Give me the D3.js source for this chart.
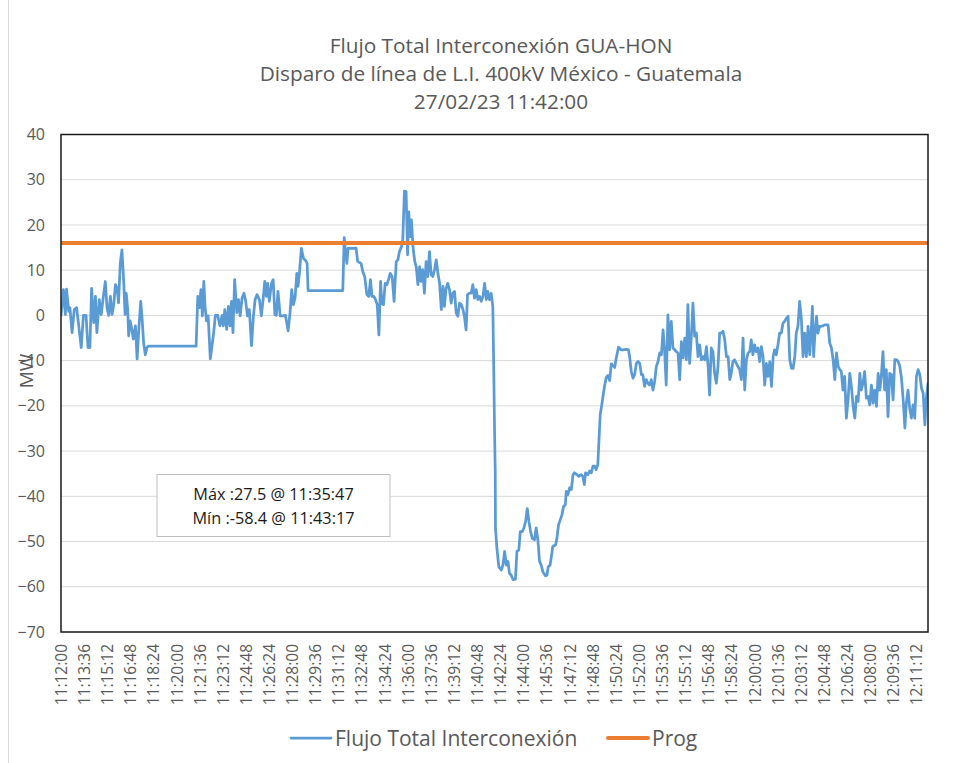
<!DOCTYPE html>
<html>
<head>
<meta charset="utf-8">
<script src="https://cdn.jsdelivr.net/npm/d3@7"></script>
<style>
  html, body { margin: 0; padding: 0; background: #ffffff; }
  svg { display: block; }
  text { font-family: "Open Sans", "Liberation Sans", sans-serif; }
</style>
</head>
<body>
<svg id="chart" width="960" height="763"></svg>
<script>
// ---------------- DATA ----------------
const titleLines = [
  "Flujo Total Interconexión GUA-HON",
  "Disparo de línea de L.I. 400kV México - Guatemala",
  "27/02/23 11:42:00"
];
const startTime = "11:12:00";
const endSeconds = 3600;

// seconds elapsed since 11:12:00
const secondsFromStart = [
  0,10,18,23,32,37,46,55,65,73,84,93,104,112,120,127,136,143,149,159,167,176,184,191,198,205,212,219,226,233,239,246,253,260,266,271,277,281,287,295,300,309,316,323,331,336,343,350,357,364,561,568,575,581,587,593,598,604,611,
  620,627,634,641,651,660,669,674,680,688,695,702,708,714,721,730,737,744,752,760,767,774,782,791,799,806,814,824,832,840,846,853,858,865,874,881,888,894,901,910,921,932,937,943,951,958,965,972,979,984,990,998,1007,1015,1022,1026,1170,1176,1181,1187,1192,
  1225,1232,1246,1253,1261,1270,1278,1285,1291,1299,1306,1313,1320,1327,1332,1339,1346,1353,1360,1367,1375,1383,1392,1399,1405,1414,1419,1426,1433,1439,1444,1450,1455,1462,1469,1475,1482,1489,1495,1502,1509,1516,1523,1530,1537,1544,1551,1558,1565,1572,1579,1586,1592,1599,1606,1613,1620,1627,1634,1641,1648,1655,1662,1669,1675,1682,1688,1696,1703,1710,1717,1724,1731,1738,1745,1752,1759,1766,1772,1779,1786,1793,
  1797,1800,1803,1804,1810,1818,1828,1835,1842,1849,1856,1862,1869,1877,1887,1893,1901,1907,1915,1922,1929,1936,1943,1950,1957,1966,1973,1980,1987,1994,2001,2012,2018,2023,2031,2037,2042,2054,2059,2066,2073,2080,2087,2094,2098,2105,2112,2119,2126,2132,2142,2150,2160,2167,2173,2178,2188,2195,2202,2209,2216,2222,2229,2234,2239,2246,2250,2257,2264,2271,2278,2285,2292,2299,2306,2315,
  2325,2333,2347,2356,2361,2368,2375,2382,2389,2396,2403,2410,2416,2423,2430,2437,2444,2451,2458,2465,2472,2479,2486,2493,2500,2506,2513,2520,2527,2534,2541,2548,2555,2562,2569,2576,2583,2590,2597,2603,2610,2617,2624,2631,2638,2645,2652,2659,2666,2673,2680,2687,2693,2700,2707,2714,2721,2728,2735,2742,2749,2756,2763,2770,2777,2783,2790,2797,2804,2811,2818,2825,2832,2839,2846,2853,2860,2866,2873,2880,2887,2894,2901,2908,2915,2922,2929,2936,2943,2950,2957,2963,2970,2977,2984,2991,2998,3005,3012,3019,3026,3033,3040,3047,3053,3060,3067,3074,3081,3088,3095,3102,3109,3116,3120,3125,3130,3137,3143,3150,3157,3164,3171,3178,3185,3192,3199,3206,3213,3220,3227,3234,3240,3247,3254,3261,3268,3275,3282,3289,3296,3303,3310,3317,3323,3330,3337,3344,3351,3358,3365,3372,3379,3386,3393,3400,3407,3413,3420,3427,3434,3441,3448,3455,3462,3469,3476,3483,3490,3497,3504,3510,3517,3524,3531,3538,3545,3552,3559,3566,3573,3580,3587,3593,3600
];
const flujoMW = [
  0,5.7,0.2,5.8,0.9,1.7,-3.8,1.3,1.7,-2,-7.1,0,0,-7.1,-7.1,6,-1.6,4.2,-3.8,3.5,0.2,4.2,7.5,1.7,0,4.2,0.2,2.4,6.8,6,2.8,11.5,14.5,7.9,0.2,4.9,1.3,-4.5,-1.2,-3.4,-5.2,-2.3,-9.6,-3.1,3.1,-0.1,-6,-8.7,-7.1,-6.8,-6.8,4.2,1.7,5.7,-0.1,7.5,2,-1.2,-0.1,
  -9.6,-6.7,-3.8,0,0,-2.3,0,-2.3,1.3,-3.1,2,-2.3,3.1,-3.8,7.9,0.6,3.5,-0.1,3.9,4.9,3.1,-0.1,1.3,-6.7,-0.1,3.5,4.6,3.5,-0.1,3.9,7.5,4.2,7.1,3.1,7.1,7.9,0.2,0,5.3,-0.1,-0.1,0,-1.6,-3.4,0.6,5.7,2.4,3.9,9.3,6.4,9.3,14.8,12.6,12.2,11.5,5.5,5.5,17.2,14.4,11.5,14.8,
  14.9,11.9,11.5,9.7,8.6,4.6,4.2,7.9,4.2,4.2,3.5,2.4,-4.3,7.5,2.7,2.4,7.1,6.8,7.9,9.3,8.6,3.1,11.9,12.3,14.1,15.2,16.7,27.5,27.4,13.4,22.9,17.4,21.1,14.9,11.9,10.8,6.8,10.8,7.5,10.1,4.9,11.9,8.6,14.1,9,8.6,10.1,12.3,9.3,7.1,1.3,6.4,2,6,7.1,5.7,2.7,4.9,5.3,0.5,-0.2,2.7,2.4,1.3,-0.2,-3.2,4.6,4.9,4.9,6.8,3.8,5.7,3.5,4.2,3.1,4.2,7.1,3.5,5.3,3.5,4.9,2,
  -12.2,-24.8,-34.4,-47,-51.5,-55.6,-56.3,-55.2,-52.2,-55.2,-54.4,-57,-57.4,-58.4,-58.3,-52.2,-51.9,-47.8,-47.8,-47,-45.6,-42.7,-45.6,-47.8,-49.3,-49.6,-47,-49.6,-54.4,-55.2,-56.7,-57.6,-57.4,-55.6,-55.2,-53,-51.1,-50.7,-49.3,-46.3,-45.2,-44.1,-42.2,-41.9,-38.9,-39.6,-38.1,-38.5,-35.2,-34.8,-35.2,-35.6,-35.2,-35.6,-37.4,-34.8,-35.2,-34.4,-34.8,-33.3,-33.3,-34.1,-33,-27.4,-21.9,-19.6,-18.1,-15.6,-13.7,-13.3,-14.4,-10.7,-11.1,-11.5,-9.3,-7,
  -7.6,-7.6,-7.5,-7.6,-9.1,-12.4,-13.9,-13.1,-10.6,-10.2,-10.6,-13.1,-13.1,-15.7,-14.2,-15,-15.4,-14.2,-16.5,-14.6,-11.3,-10.2,-8.3,-8.7,-3.2,-7.6,-15.4,0.1,-7.6,-1.3,-7.2,-7.6,-8,-8.3,-14.2,-5.8,-9.4,-5,-9.8,2.4,-10.6,-5,2.7,-4.6,-3.9,-9.1,-6.5,-9.8,-9.1,-9.8,-6.9,-11.3,-17.6,-7.2,-8,-12.8,-15,-11.3,-3.9,-3.9,-3.5,-5.4,-9.1,-9.1,-14.2,-12.8,-10.2,-9.8,-10.6,-11.3,-12,-14.2,-5,-16.5,-9.8,-8.3,-8,-5.4,-8.7,-6.5,-8,-7.2,-10.2,-6.9,-9.1,-15.4,-10.6,-13.5,-10.2,-15.7,-9.1,-7.6,-8.7,-6.5,-3.9,-3.9,-1.7,-1.3,-0.6,-0.2,-9.8,-11.7,-11.7,-9.1,-3.9,-2.4,3.1,-0.6,-9.1,-3.9,-9.1,-2.4,-8.7,-2.4,2,-9.1,-4.6,-0.2,-3.9,-2.4,-2.4,-2.3,-2.1,-2.1,-2.1,-6.1,-7.2,-9.8,-14.2,-8.3,-11.3,-12,-12.4,-16.5,-13.5,-22.7,-18.7,-12.8,-15.7,-20.1,-22.7,-17.9,-19,-12.8,-16.5,-15,-12.4,-18.3,-17.9,-19.8,-15.4,-19.4,-16.5,-20.1,-12.8,-16.5,-12.8,-8,-16.5,-12,-22.4,-12.8,-13.1,-18.7,-9.8,-9.8,-10.2,-11.3,-13.9,-18.7,-24.9,-19.4,-16.5,-20.5,-22.7,-19.8,-22.7,-13.5,-12,-13.1,-16.1,-17.2,-24.2,-18.3,-15
];
const progSeconds = [0, 3600];
const progMW = [16, 16];

const yTicks = [40, 30, 20, 10, 0, -10, -20, -30, -40, -50, -60, -70];
const xTickLabels = [
  "11:12:00","11:13:36","11:15:12","11:16:48","11:18:24","11:20:00","11:21:36","11:23:12",
  "11:24:48","11:26:24","11:28:00","11:29:36","11:31:12","11:32:48","11:34:24","11:36:00",
  "11:37:36","11:39:12","11:40:48","11:42:24","11:44:00","11:45:36","11:47:12","11:48:48",
  "11:50:24","11:52:00","11:53:36","11:55:12","11:56:48","11:58:24","12:00:00","12:01:36",
  "12:03:12","12:04:48","12:06:24","12:08:00","12:09:36","12:11:12"
];
const seriesNames = ["Flujo Total Interconexión", "Prog"];
const annotationLines = ["Máx :27.5 @ 11:35:47", "Mín :-58.4 @ 11:43:17"];
const yAxisTitle = "MW";

// ---------------- LAYOUT ----------------
const svg = d3.select("#chart");
const plot = { left: 61, right: 928, top: 134.5, bottom: 632 };
const colors = { flujo: "#5B9BD5", prog: "#ED7D31", text: "#595959", grid: "#D9D9D9" };

function toSeconds(s) {
  const [h, m, sec] = s.split(":").map(Number);
  const [h0, m0, s0] = startTime.split(":").map(Number);
  return (h * 3600 + m * 60 + sec) - (h0 * 3600 + m0 * 60 + s0);
}

const x = d3.scaleLinear().domain([0, endSeconds]).range([plot.left, plot.right]);
const y = d3.scaleLinear().domain([-70, 40]).range([plot.bottom, plot.top]);

// outer chart frame (left edge visible)
svg.append("line").attr("x1", 8.5).attr("x2", 8.5).attr("y1", 0).attr("y2", 763)
  .attr("stroke", "#D9D9D9").attr("stroke-width", 1);

// title
const title = svg.append("text").attr("text-anchor", "middle")
  .attr("fill", colors.text).style("font-size", "20.8px");
titleLines.forEach((t, i) => {
  title.append("tspan").attr("x", 501).attr("y", 53 + i * 28).text(t);
});

// gridlines
svg.append("g").selectAll("line").data(yTicks).join("line")
  .attr("x1", plot.left).attr("x2", plot.right)
  .attr("y1", d => y(d)).attr("y2", d => y(d))
  .attr("stroke", colors.grid).attr("stroke-width", 1);

// y axis labels
const yAxis = d3.axisLeft(y).tickValues(yTicks).tickSize(0).tickPadding(0).tickFormat(d3.format("d"));
const gy = svg.append("g").attr("transform", `translate(${plot.left - 16},0)`).call(yAxis);
gy.select(".domain").remove();
gy.selectAll("text").attr("fill", colors.text).style("font-size", "16px")
  .style("font-family", "'Open Sans', sans-serif");

// y axis title
svg.append("text").attr("transform", `translate(26,371) rotate(-90)`)
  .attr("text-anchor", "middle").attr("dominant-baseline", "central")
  .attr("fill", colors.text).style("font-size", "19px").text(yAxisTitle);

// x axis labels
const xAxis = d3.axisBottom(x).tickValues(xTickLabels.map(toSeconds)).tickSize(0)
  .tickFormat((d, i) => xTickLabels[i]);
const gx = svg.append("g").attr("transform", `translate(0,${plot.bottom})`).call(xAxis);
gx.select(".domain").remove();
gx.selectAll("text")
  .attr("fill", colors.text).style("font-size", "15.5px")
  .style("font-family", "'Open Sans', sans-serif")
  .attr("text-anchor", "end")
  .attr("transform", "rotate(-90)")
  .attr("x", -12).attr("y", 0).attr("dy", "0.35em");

// series lines
const clipId = "plotclip";
svg.append("clipPath").attr("id", clipId).append("rect")
  .attr("x", plot.left).attr("y", plot.top)
  .attr("width", plot.right - plot.left).attr("height", plot.bottom - plot.top);

const lineGen = d3.line().x(d => x(d[0])).y(d => y(d[1]));
const flujoData = secondsFromStart.map((s, i) => [s, flujoMW[i]]);
const progData = progSeconds.map((s, i) => [s, progMW[i]]);

svg.append("path").datum(flujoData)
  .attr("clip-path", `url(#${clipId})`)
  .attr("d", lineGen).attr("fill", "none")
  .attr("stroke", colors.flujo).attr("stroke-width", 2.75)
  .attr("stroke-linejoin", "round").attr("stroke-linecap", "round");

svg.append("path").datum(progData)
  .attr("d", lineGen).attr("fill", "none")
  .attr("stroke", colors.prog).attr("stroke-width", 4);

// plot border
svg.append("rect").attr("x", plot.left).attr("y", plot.top)
  .attr("width", plot.right - plot.left).attr("height", plot.bottom - plot.top)
  .attr("fill", "none").attr("stroke", "#1a1a1a").attr("stroke-width", 1.5);

// annotation box
const ann = svg.append("g");
ann.append("rect").attr("x", 157).attr("y", 474.5).attr("width", 233).attr("height", 62)
  .attr("fill", "#ffffff").attr("stroke", "#BFBFBF").attr("stroke-width", 1);
annotationLines.forEach((t, i) => {
  ann.append("text").attr("x", 273.5).attr("y", 500 + i * 24)
    .attr("text-anchor", "middle").attr("fill", "#1a1a1a")
    .style("font-size", "16.3px").text(t);
});

// legend
const legend = svg.append("g");
const legendItems = [
  { name: seriesNames[0], color: colors.flujo, x: 291, w: 2.75 },
  { name: seriesNames[1], color: colors.prog, x: 608, w: 4 }
];
legendItems.forEach(it => {
  legend.append("line").attr("x1", it.x).attr("x2", it.x + 40).attr("y1", 738).attr("y2", 738)
    .attr("stroke", it.color).attr("stroke-width", it.w).attr("stroke-linecap", "round");
  legend.append("text").attr("x", it.x + 44).attr("y", 745.5)
    .attr("fill", colors.text).style("font-size", "21px").text(it.name);
});
</script>
</body>
</html>
